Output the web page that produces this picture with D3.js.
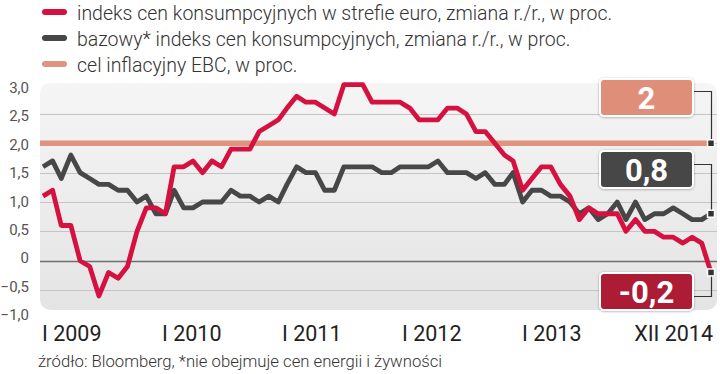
<!DOCTYPE html>
<html><head><meta charset="utf-8">
<script src="https://cdn.jsdelivr.net/npm/d3@7"></script>
<style>
html,body{margin:0;padding:0;background:#fff;}
svg{display:block;}
</style></head>
<body>
<svg id="chart" width="720" height="374"></svg>
<script>
// ---- data ----
const startMonth = "2009-01";
const hicp = [
  1.1, 1.2, 0.6, 0.6, 0.0, -0.1, -0.6, -0.2, -0.3, -0.1, 0.5, 0.9,
  0.9, 0.8, 1.6, 1.6, 1.7, 1.5, 1.7, 1.6, 1.9, 1.9, 1.9, 2.2,
  2.3, 2.4, 2.6, 2.8, 2.7, 2.7, 2.6, 2.5, 3.0, 3.0, 3.0, 2.7,
  2.7, 2.7, 2.7, 2.6, 2.4, 2.4, 2.4, 2.6, 2.6, 2.5, 2.2, 2.2,
  2.0, 1.8, 1.7, 1.2, 1.4, 1.6, 1.6, 1.3, 1.1, 0.7, 0.9, 0.8,
  0.8, 0.8, 0.5, 0.7, 0.5, 0.5, 0.4, 0.4, 0.3, 0.4, 0.3, -0.2
];
const core = [
  1.6, 1.7, 1.4, 1.8, 1.5, 1.4, 1.3, 1.3, 1.2, 1.2, 1.0, 1.1,
  0.8, 0.8, 1.2, 0.9, 0.9, 1.0, 1.0, 1.0, 1.2, 1.1, 1.1, 1.0,
  1.1, 1.0, 1.3, 1.6, 1.5, 1.5, 1.2, 1.2, 1.6, 1.6, 1.6, 1.6,
  1.5, 1.5, 1.6, 1.6, 1.6, 1.6, 1.7, 1.5, 1.5, 1.5, 1.4, 1.5,
  1.3, 1.3, 1.5, 1.0, 1.2, 1.2, 1.1, 1.1, 1.0, 0.8, 0.9, 0.7,
  0.8, 1.0, 0.7, 1.0, 0.7, 0.8, 0.8, 0.9, 0.8, 0.7, 0.7, 0.8
];
const target = 2;
const yTicks = [3, 2.5, 2, 1.5, 1, 0.5, 0, -0.5, -1];
const xTickLabels = ["I 2009", "I 2010", "I 2011", "I 2012", "I 2013", "XII 2014"];
const legendLabels = [
  "indeks cen konsumpcyjnych w strefie euro, zmiana r./r., w proc.",
  "bazowy* indeks cen konsumpcyjnych, zmiana r./r., w proc.",
  "cel inflacyjny EBC, w proc."
];
const sourceNote = "źródło: Bloomberg, *nie obejmuje cen energii i żywności";

// ---- colours ----
const RED = "#d5123f", DARK = "#474747", SALMON = "#e0937e";
const RED_BOX = "#ac1b36", DARK_BOX = "#474747", SALMON_BOX = "#df8f79";

const svg = d3.select("#chart");
const parse = d3.timeParse("%Y-%m");
const t0 = parse(startMonth);
const dates = hicp.map((_, i) => d3.timeMonth.offset(t0, i));

const x = d3.scaleTime().domain([dates[0], dates[dates.length - 1]]).range([43, 711]);
const y = d3.scaleLinear().domain([-1, 3]).range([319.4, 84.6]);
const yLabel = d3.scaleLinear().domain([-1, 3]).range([315, 88]);
const xLabel = d3.scalePoint().domain(xTickLabels.slice(0, 5)).range([42, 522]);

// background
const defs = svg.append("defs");
const grad = defs.append("linearGradient").attr("id", "bg").attr("x1", 0).attr("y1", 0).attr("x2", 0).attr("y2", 1);
grad.append("stop").attr("offset", "0%").attr("stop-color", "#f5f5f5");
grad.append("stop").attr("offset", "100%").attr("stop-color", "#e4e4e4");
const sh = defs.append("filter").attr("id", "sh").attr("x", "-20%").attr("y", "-30%").attr("width", "140%").attr("height", "160%");
sh.append("feDropShadow").attr("dx", 0).attr("dy", 0.5).attr("stdDeviation", 1).attr("flood-color", "#000").attr("flood-opacity", 0.35);

svg.append("rect").attr("x", 40).attr("y", 83).attr("width", 677).attr("height", 227)
  .attr("rx", 10).attr("fill", "url(#bg)");

// gridlines
svg.append("g").selectAll("line").data(yTicks.filter(v => v !== 3 && v !== -1)).join("line")
  .attr("x1", 40).attr("x2", 717)
  .attr("y1", d => Math.round(y(d)) + 0.5).attr("y2", d => Math.round(y(d)) + 0.5)
  .attr("stroke", d => d === 0 ? "#6e6e6e" : "#c4c4c4")
  .attr("stroke-width", d => d === 0 ? 1.6 : 1);

// y labels
svg.append("g").selectAll("text").data(yTicks).join("text")
  .attr("x", 29).attr("y", d => yLabel(d))
  .attr("text-anchor", "end").attr("dominant-baseline", "central")
  .attr("font-family", "Roboto, sans-serif").attr("font-size", 15).attr("fill", "#555")
  .text(d => d === 0 ? "0" : d3.format(".1f")(d).replace(".", ","));

// target line
svg.append("line").attr("x1", 40).attr("x2", x(dates[dates.length - 1]))
  .attr("y1", y(target)).attr("y2", y(target))
  .attr("stroke", SALMON).attr("stroke-width", 5.5);

const line = d3.line().x((d, i) => x(dates[i])).y(d => y(d));
svg.append("path").datum(core).attr("d", line).attr("fill", "none")
  .attr("stroke", DARK).attr("stroke-width", 4.8).attr("stroke-linejoin", "round");
svg.append("path").datum(hicp).attr("d", line).attr("fill", "none")
  .attr("stroke", RED).attr("stroke-width", 4.8).attr("stroke-linejoin", "round");

// value boxes
const last = dates.length - 1;
const boxes = [
  {v: target, fill: SALMON_BOX, top: 79, conn: 91},
  {v: core[last], fill: DARK_BOX, top: 151, conn: 164},
  {v: hicp[last], fill: RED_BOX, top: 273, conn: 296}
];
const mx = x(dates[last]);
const bx = 600, bw = 93, bh = 37;
const bg = svg.append("g");
boxes.forEach(b => {
  const my = y(b.v);
  bg.append("path")
    .attr("d", `M${bx + bw},${b.conn + 0.5}H${mx + 0.5}V${my}`)
    .attr("fill", "none").attr("stroke", "#333").attr("stroke-width", 1.2);
  bg.append("rect").attr("x", bx).attr("y", b.top).attr("width", bw).attr("height", bh)
    .attr("rx", 4).attr("fill", b.fill).attr("stroke", "#fff").attr("stroke-width", 2)
    .attr("filter", "url(#sh)");
  bg.append("text").attr("x", bx + bw / 2).attr("y", b.top + bh / 2 + 1)
    .attr("text-anchor", "middle").attr("dominant-baseline", "central")
    .attr("font-family", "Roboto, sans-serif").attr("font-weight", 700).attr("font-size", 31)
    .attr("fill", "#fff")
    .text(String(b.v).replace(".", ","));
  bg.append("rect").attr("x", mx - 3.5).attr("y", my - 3.5).attr("width", 7).attr("height", 7)
    .attr("fill", "#333").attr("stroke", "#fff").attr("stroke-width", 1.5);
});

// x labels
svg.append("g").selectAll("text").data(xTickLabels.slice(0, 5)).join("text")
  .attr("x", d => xLabel(d)).attr("y", 341)
  .attr("font-family", "Roboto, sans-serif").attr("font-size", 21.5).attr("fill", "#222")
  .text(d => d);
svg.append("text").attr("x", x(dates[last]) + 2).attr("y", 341).attr("text-anchor", "end")
  .attr("font-family", "Roboto, sans-serif").attr("font-size", 21.5).attr("fill", "#222")
  .text(xTickLabels[5]);

// legend
const legColors = [RED, DARK, SALMON];
const leg = svg.append("g");
legendLabels.forEach((t, i) => {
  const yy = 12 + i * 26;
  leg.append("line").attr("x1", 45).attr("x2", 64).attr("y1", yy).attr("y2", yy)
    .attr("stroke", legColors[i]).attr("stroke-width", 6).attr("stroke-linecap", "round");
  leg.append("text").attr("x", 77).attr("y", yy + 8)
    .attr("font-family", "Roboto, sans-serif").attr("font-weight", 300).attr("font-size", 19.5)
    .attr("fill", "#333").text(t);
});

// source
svg.append("text").attr("x", 38).attr("y", 367)
  .attr("font-family", "Roboto, sans-serif").attr("font-weight", 300).attr("font-size", 16.7)
  .attr("fill", "#333").text(sourceNote);
</script>
</body></html>
